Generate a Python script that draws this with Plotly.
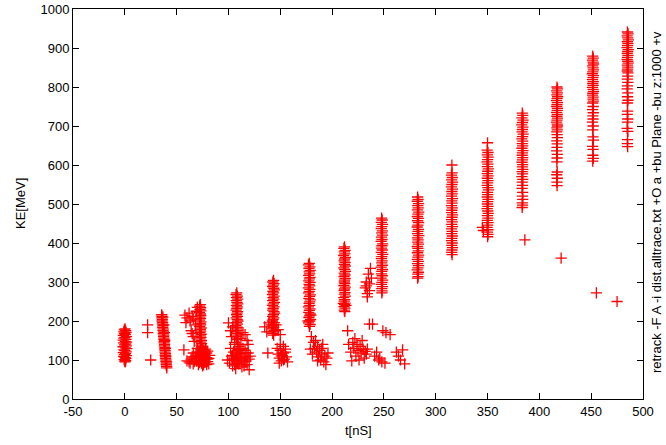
import plotly.graph_objects as go

# (t [nS], KE [MeV]) readings, one list per bunch
b0 = [(0.2, 180), (-0.5, 177), (0.8, 175), (-1.0, 172), (1.2, 170), (-0.3, 168), (0.6, 165), (-1.4, 163), (1.5, 160), (0.0, 158),
      (-0.8, 156), (1.1, 153), (-1.6, 151), (0.4, 148), (1.7, 146), (-1.2, 144), (0.9, 141), (-0.2, 139), (1.4, 136), (-1.7, 134),
      (0.5, 131), (1.9, 129), (-0.9, 126), (0.1, 124), (1.3, 121), (-1.5, 119), (0.7, 116), (-0.4, 114), (1.6, 111), (-1.1, 109),
      (0.3, 106), (1.0, 104), (-0.6, 101), (0.8, 99), (-0.1, 97), (0.4, 95)]

b1 = [(35.6, 216), (35.9, 212), (35.7, 208), (36.2, 204), (36.0, 200), (36.5, 196), (36.3, 192), (36.8, 188), (36.6, 184), (37.0, 180),
      (36.9, 176), (37.3, 172), (37.1, 168), (37.6, 164), (37.4, 160), (37.8, 156), (37.7, 152), (38.1, 148), (37.9, 144), (38.4, 140),
      (38.2, 136), (38.6, 132), (38.5, 128), (38.9, 124), (38.8, 120), (39.2, 116), (39.0, 112), (39.4, 108), (39.3, 104), (39.7, 100),
      (39.6, 96), (40.0, 92), (39.9, 88), (40.3, 84), (40.5, 80), (36.8, 210), (37.8, 190), (38.3, 170), (38.6, 150), (39.2, 130),
      (39.6, 110), (40.3, 95), (22, 190), (22, 170), (25, 100)]

b2 = [(72.8, 242), (72.2, 238), (73.1, 234), (72.5, 230), (73.4, 226), (72.0, 222), (72.9, 218), (73.3, 214), (72.4, 210), (73.0, 206),
      (72.1, 202), (73.5, 198), (72.7, 194), (73.2, 190), (72.3, 186), (73.6, 182), (72.8, 178), (73.1, 174), (72.5, 170), (73.7, 166),
      (72.9, 162), (73.4, 158), (72.6, 154), (73.9, 150), (73.2, 146), (74.0, 142), (73.5, 138), (74.3, 134), (73.8, 130), (74.5, 126),
      (62, 95), (64, 102), (66, 90), (68, 110), (69, 97), (70, 120), (71, 88), (72, 105), (73, 115), (74, 92),
      (75, 100), (76, 125), (77, 108), (78, 95), (79, 118), (80, 102), (81, 90), (82, 112), (70, 130), (74, 133),
      (76, 88), (78, 128), (66, 118), (60, 98), (80, 123), (73, 97), (75, 110), (77, 94), (71, 112), (79, 106),
      (74, 122), (76, 114), (78, 103), (80, 96), (72, 93), (75, 85), (77, 120), (79, 88), (81, 104), (73, 126),
      (69, 104), (67, 96), (65, 108), (63, 92), (76, 98), (78, 112), (74, 106), (72, 118),
      (58, 215), (60, 208), (62, 220), (63, 200), (65, 212), (59, 196), (66, 205), (64, 175), (66, 160), (67, 148),
      (65, 168), (57, 126), (68, 190), (69, 225), (70, 235)]

b3 = [(108.0, 272), (107.3, 268), (108.6, 264), (107.8, 260), (108.9, 256), (107.5, 252), (108.2, 248), (109.0, 244), (107.7, 240), (108.5, 236),
      (108.1, 232), (107.4, 228), (108.8, 224), (108.3, 220), (107.9, 216), (108.7, 212), (107.6, 208), (108.4, 204), (109.1, 200), (107.9, 196),
      (108.6, 192), (107.2, 188), (108.3, 184), (107.8, 180), (108.9, 176), (107.5, 172), (108.4, 168), (109.2, 164), (107.7, 160), (108.5, 156),
      (108.0, 152),
      (99, 100), (101, 92), (103, 110), (104, 85), (105, 120), (106, 98), (107, 78), (108, 108), (109, 125), (110, 90),
      (111, 115), (112, 100), (113, 82), (114, 130), (115, 105), (116, 95), (117, 118), (118, 88), (119, 140), (120, 102),
      (121, 110), (102, 130), (106, 140), (110, 135), (104, 100), (112, 125), (108, 92), (115, 85), (118, 150), (116, 165),
      (100, 195), (102, 175), (103, 160), (104, 185), (114, 170), (112, 155), (120, 75), (105, 105), (107, 115), (109, 95),
      (111, 128), (113, 110), (106, 88), (108, 120), (110, 104), (104, 112), (116, 125), (118, 108), (117, 98), (119, 118),
      (106, 145), (109, 140)]

b4 = [(143.5, 304), (142.8, 300), (144.0, 296), (143.2, 292), (142.6, 288), (143.8, 284), (144.3, 280), (142.9, 276), (143.6, 272), (142.5, 268),
      (144.1, 264), (143.0, 260), (143.7, 256), (142.7, 252), (144.4, 248), (143.3, 244), (142.4, 240), (144.0, 236), (143.1, 232), (142.8, 228),
      (143.9, 224), (144.5, 220), (143.4, 216), (142.6, 212), (143.8, 208), (143.1, 204), (142.5, 200), (144.2, 196), (143.5, 192), (142.9, 188),
      (143.7, 184), (142.4, 180), (144.0, 176), (143.2, 172), (142.7, 168), (143.6, 164), (141.5, 190), (145.0, 175),
      (135, 185), (137, 172), (139, 195), (146, 190), (148, 178), (150, 165), (138, 118), (147, 130), (148, 115), (149, 105),
      (150, 125), (151, 98), (152, 112), (153, 135), (154, 102), (155, 120), (156, 108), (157, 95), (150, 140), (153, 118),
      (149, 92), (155, 128), (151, 110), (153, 100)]

b5 = [(178.0, 348), (177.2, 344), (178.6, 339), (177.6, 335), (178.9, 330), (177.9, 326), (178.3, 321), (177.4, 317), (178.7, 312), (178.1, 308),
      (177.5, 303), (178.8, 299), (177.8, 294), (178.4, 290), (177.1, 285), (178.6, 281), (178.0, 276), (177.3, 272), (179.0, 267), (178.2, 263),
      (177.6, 258), (178.9, 254), (178.4, 249), (177.8, 245), (178.5, 240), (177.2, 236), (178.7, 231), (178.0, 227), (177.5, 222), (178.9, 218),
      (178.2, 213), (177.6, 209), (179.2, 204), (178.4, 200), (177.3, 195), (178.8, 191), (178.1, 186), (176.8, 200), (179.5, 215),
      (180, 160), (182, 145), (183, 130), (184, 150), (185, 120), (186, 135), (187, 108), (188, 125), (189, 100), (190, 115),
      (191, 140), (192, 95), (193, 110), (194, 88), (195, 105), (196, 118), (181, 115), (179, 128), (186, 98), (190, 130)]

b6 = [(212.0, 390), (211.4, 386), (212.6, 381), (211.8, 377), (212.3, 372), (211.2, 368), (212.8, 363), (212.1, 359), (211.6, 354), (212.5, 350),
      (211.9, 345), (212.7, 341), (211.3, 336), (212.2, 332), (212.9, 327), (211.7, 323), (212.4, 318), (211.5, 314), (212.6, 309), (212.0, 305),
      (211.8, 300), (212.3, 296), (211.4, 291), (212.7, 287), (212.0, 282), (211.6, 278), (212.5, 273), (211.9, 269), (212.8, 264), (211.3, 260),
      (212.2, 255), (211.7, 251), (212.6, 246), (212.0, 242), (211.5, 237), (212.4, 233), (211.8, 228), (212.3, 224), (210.8, 245), (213.5, 240),
      (215, 175), (218, 120), (220, 145), (221, 130), (222, 155), (223, 110), (224, 140), (225, 125), (226, 100), (227, 135),
      (228, 118), (229, 150), (230, 128), (231, 105), (232, 122), (233, 115), (234, 128), (219, 98), (236, 192), (216, 140),
      (232, 285), (233, 300), (234, 270), (235, 320), (236, 295), (237, 335), (238, 310), (234, 262), (233, 290), (236, 278)]

b7 = [(247.8, 464), (248.3, 459), (247.5, 453), (248.6, 448), (248.0, 442), (247.4, 437), (248.5, 431), (247.9, 426), (248.7, 420), (247.6, 415),
      (248.2, 409), (247.3, 404), (248.8, 398), (248.1, 393), (247.7, 387), (248.4, 382), (247.5, 376), (248.9, 371), (248.0, 365), (247.6, 360),
      (248.3, 354), (247.9, 349), (248.5, 343), (247.4, 338), (248.6, 332), (248.0, 327), (247.7, 321), (248.4, 316), (247.3, 310), (248.8, 305),
      (248.1, 299), (247.6, 294), (248.5, 288), (247.9, 283), (248.3, 277), (248.0, 272),
      (239, 192), (249, 175), (252, 170), (256, 165), (241, 110), (243, 120), (245, 100), (248, 95), (251, 92), (262, 120),
      (264, 110), (266, 100), (268, 126), (270, 90), (246, 105)]

b8 = [(282.5, 518), (283.0, 512), (282.2, 507), (283.4, 501), (282.7, 496), (283.1, 490), (282.4, 485), (283.6, 479), (282.9, 474), (282.3, 468),
      (283.2, 463), (282.6, 457), (283.5, 452), (282.8, 446), (282.1, 441), (283.3, 435), (282.9, 430), (282.5, 424), (283.7, 419), (282.4, 413),
      (283.0, 408), (282.7, 402), (283.3, 397), (282.2, 391), (282.8, 386), (283.1, 380), (282.4, 375), (283.5, 369), (282.9, 364), (282.3, 358),
      (283.2, 353), (282.6, 347), (283.4, 342), (282.8, 336), (282.1, 331), (283.3, 325), (282.7, 320), (283.0, 314), (282.5, 310)]

b9 = [(315.6, 600), (315.8, 580), (315.2, 574), (316.0, 568), (315.4, 562), (316.3, 556), (315.7, 550), (315.1, 544), (316.2, 538), (315.6, 532),
      (315.9, 526), (315.3, 520), (316.1, 514), (315.5, 508), (315.8, 502), (315.2, 496), (316.0, 490), (315.6, 484), (315.4, 478), (316.2, 472),
      (315.7, 466), (315.3, 460), (315.9, 454), (315.5, 448), (316.1, 442), (315.2, 436), (315.8, 430), (315.4, 424), (316.0, 418), (315.6, 412),
      (315.3, 406), (315.9, 400), (315.5, 394), (316.2, 388), (315.7, 382), (315.4, 376), (315.8, 370)]

b10 = [(350.0, 657), (349.6, 638), (350.4, 632), (349.8, 626), (350.6, 620), (350.1, 614), (349.5, 608), (350.3, 602), (349.9, 596), (350.7, 590),
       (350.2, 584), (349.7, 578), (350.5, 572), (349.8, 566), (350.4, 560), (350.0, 554), (349.6, 548), (350.3, 542), (350.8, 536), (349.9, 530),
       (350.2, 524), (349.7, 518), (350.5, 512), (350.1, 506), (349.8, 500), (350.4, 494), (349.6, 488), (350.2, 482), (350.6, 476), (349.9, 470),
       (350.3, 464), (349.7, 458), (350.5, 452), (350.0, 446), (349.6, 440), (350.3, 434), (349.9, 428), (350.4, 422), (350.1, 416), (345, 440),
       (346, 432)]

b11 = [(383.5, 733), (384.0, 727), (383.2, 721), (384.3, 715), (383.7, 709), (383.0, 703), (384.1, 697), (383.6, 691), (383.3, 685), (384.4, 679),
       (383.8, 673), (383.1, 667), (384.0, 661), (383.5, 655), (383.9, 649), (383.2, 643), (384.2, 637), (383.6, 631), (383.4, 625), (384.0, 619),
       (383.7, 613), (383.3, 607), (383.9, 601), (383.6, 595), (384.1, 589), (383.4, 583), (383.8, 577), (383.2, 570), (384.0, 563), (383.5, 556),
       (383.8, 548), (383.3, 540), (383.9, 530), (383.6, 520), (384.0, 512), (383.5, 503), (383.8, 497), (383.4, 491), (386, 408)]

b12 = [(417.0, 800), (417.5, 795), (416.7, 790), (417.3, 785), (416.9, 780), (417.6, 775), (417.1, 770), (416.6, 765), (417.4, 760), (417.0, 755),
       (416.8, 750), (417.5, 745), (417.2, 740), (416.7, 735), (417.3, 730), (416.9, 725), (417.4, 720), (417.0, 715), (416.6, 710), (417.2, 705),
       (417.5, 700), (416.9, 695), (417.3, 690), (416.8, 685), (417.1, 678), (417.4, 670), (416.8, 662), (417.2, 654), (417.0, 645), (416.7, 636),
       (417.3, 627), (417.1, 618), (416.9, 608), (417.2, 582), (416.8, 575), (417.3, 566), (417.0, 556), (417.1, 547), (421, 361)]

b13 = [(451.5, 879), (452.0, 874), (451.2, 869), (451.8, 864), (452.3, 859), (451.4, 854), (451.9, 849), (452.2, 844), (451.6, 839), (451.1, 834),
       (452.1, 829), (451.7, 824), (451.3, 819), (452.0, 814), (451.5, 809), (451.9, 804), (451.2, 799), (451.8, 794), (452.2, 789), (451.6, 784),
       (451.4, 779), (451.9, 774), (451.7, 769), (452.1, 764), (451.5, 759), (451.9, 750), (451.3, 742), (452.0, 734), (451.6, 726), (451.8, 718),
       (451.2, 710), (451.9, 700), (451.5, 690), (451.7, 672), (452.1, 664), (451.4, 648), (451.8, 640), (451.6, 625), (452.0, 617), (451.5, 610),
       (455, 272)]

b14 = [(485.0, 941), (485.6, 936), (484.7, 931), (485.3, 926), (485.8, 921), (484.9, 916), (485.4, 911), (485.1, 906), (484.6, 901), (485.7, 896),
       (485.2, 891), (484.8, 886), (485.5, 881), (485.0, 876), (484.7, 871), (485.3, 866), (485.6, 861), (484.9, 856), (485.4, 851), (485.1, 846),
       (484.8, 841), (485.5, 836), (485.2, 828), (484.9, 820), (485.4, 812), (485.0, 803), (484.7, 795), (485.3, 785), (485.1, 775), (485.5, 766),
       (484.9, 759), (485.2, 738), (484.8, 730), (485.3, 718), (485.0, 710), (484.7, 694), (485.4, 686), (485.1, 665), (484.9, 655), (485.2, 647),
       (475, 250)]

bunches = [b0, b1, b2, b3, b4, b5, b6, b7, b8, b9, b10, b11, b12, b13, b14]

x_ticks = [-50, 0, 50, 100, 150, 200, 250, 300, 350, 400, 450, 500]
x_labels = ["-50", "0", "50", "100", "150", "200", "250", "300", "350", "400", "450", "500"]
y_ticks = [0, 100, 200, 300, 400, 500, 600, 700, 800, 900, 1000]

t_all = [p[0] for b in bunches for p in b]
ke_all = [p[1] for b in bunches for p in b]

font = dict(family="Liberation Sans, Arial, sans-serif", size=13, color="black")

fig = go.Figure()
fig.add_trace(go.Scatter(
    x=t_all, y=ke_all, mode="markers",
    marker=dict(symbol="cross-thin-open", size=8, color="rgb(255,0,0)",
                line=dict(width=1.3, color="rgb(255,0,0)")),
    showlegend=False, hoverinfo="x+y"
))

axis_common = dict(showgrid=False, zeroline=False, showline=True, linecolor="black",
                   linewidth=1, mirror="ticks", ticks="inside", ticklen=6,
                   tickcolor="black", tickfont=font, automargin=False)

fig.update_layout(
    width=666, height=445,
    margin=dict(l=73, r=23, t=9, b=46),
    paper_bgcolor="white", plot_bgcolor="white",
    font=font,
    xaxis=dict(range=[-50, 500], tickvals=x_ticks, ticktext=x_labels, **axis_common),
    yaxis=dict(range=[0, 1000], tickvals=y_ticks, **axis_common),
    annotations=[
        dict(text="t[nS]", x=0.5, y=0, xref="paper", yref="paper", xanchor="center",
             yanchor="middle", yshift=-31, showarrow=False, font=font),
        dict(text="KE[MeV]", x=0, y=0.5, xref="paper", yref="paper", xanchor="center",
             yanchor="middle", xshift=-53, textangle=-90, showarrow=False, font=font),
        dict(text="retrack -F A -i dist.alltrace.txt +O a +bu Plane -bu z:1000 +v",
             x=1, y=0.505, xref="paper", yref="paper", xanchor="center", yanchor="middle",
             xshift=13, textangle=-90, showarrow=False, font=font),
    ],
)

fig.write_html("out.html", config={"displayModeBar": False},
               post_script="document.body.style.margin='0';")
